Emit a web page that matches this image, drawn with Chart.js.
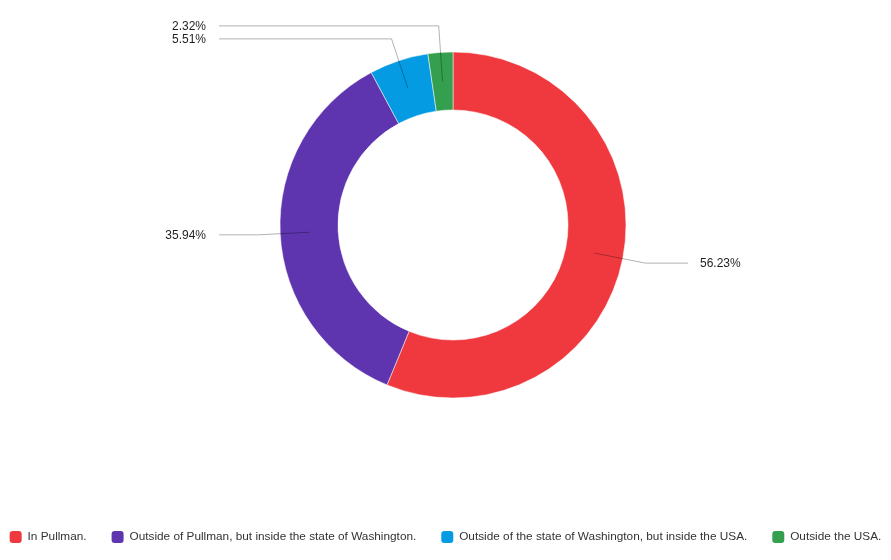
<!DOCTYPE html>
<html>
<head>
<meta charset="utf-8">
<script src="https://cdn.jsdelivr.net/npm/chart.js@4"></script>
<style>
  html, body { margin: 0; padding: 0; background: #fff; }
  #wrap { width: 891px; height: 560px; position: relative; }
</style>
</head>
<body>
<div id="wrap"><canvas id="donut"></canvas></div>
<script>
const categories = [
    'In Pullman.',
    'Outside of Pullman, but inside the state of Washington.',
    'Outside of the state of Washington, but inside the USA.',
    'Outside the USA.'
];
const shares = [56.23, 35.94, 5.51, 2.32];
const sliceColors = ['#f0393f', '#5e35ae', '#049be3', '#34a04f'];

const FONT = '"Liberation Sans", Arial, sans-serif';

// keep the legend on one row and put the ring where the original has it
const placement = {
    id: 'placement',
    beforeLayout(chart) {
        const lg = chart.legend;
        if (lg && !lg._oneRow) {
            lg._oneRow = true;
            const fit = lg.fit;
            lg.fit = function () {
                const w = this.maxWidth;
                this.maxWidth = 2000;
                fit.call(this);
                this.maxWidth = w;
                this.width = w;
            };
            const draw = lg.draw;
            lg.draw = function () {
                const r = this.right, lw = this.lineWidths[0];
                this.right = r + 1000;
                this.lineWidths[0] = lw + 1000;
                draw.call(this);
                this.right = r;
                this.lineWidths[0] = lw;
            };
        }
    },
    afterLayout(chart) {
        const a = chart.chartArea;
        a.left = 15;
        a.top = 0;
        a.bottom = 450;
        a.width = a.right - a.left;
        a.height = a.bottom - a.top;
    }
};

// leader lines + percentage labels
const leaderLabels = {
    id: 'leaderLabels',
    afterDatasetsDraw(chart) {
        const ctx = chart.ctx;
        const arcs = chart.getDatasetMeta(0).data;
        const items = arcs.map((arc, i) => {
            const mid = (arc.startAngle + arc.endAngle) / 2;
            const rMid = (arc.innerRadius + arc.outerRadius) / 2;
            const rOut = arc.outerRadius + 23;
            return {
                i,
                sx: arc.x + Math.cos(mid) * rMid,
                sy: arc.y + Math.sin(mid) * rMid,
                ex: arc.x + Math.cos(mid) * rOut,
                ey: arc.y + Math.sin(mid) * rOut,
                right: Math.cos(mid) >= 0,
                cx: arc.x
            };
        });
        // keep labels on one side from overlapping
        [true, false].forEach(side => {
            const group = items.filter(it => it.right === side).sort((a, b) => b.ey - a.ey);
            for (let k = 1; k < group.length; k++) {
                if (group[k].ey > group[k - 1].ey - 13) group[k].ey = group[k - 1].ey - 13;
            }
        });
        ctx.save();
        ctx.lineWidth = 1;
        ctx.strokeStyle = 'rgba(0,0,0,0.3)';
        ctx.font = '12px ' + FONT;
        ctx.fillStyle = '#1f1f1f';
        ctx.textBaseline = 'middle';
        items.forEach(it => {
            const endX = it.right ? it.cx + 235 : it.cx - 234;
            ctx.beginPath();
            ctx.moveTo(it.sx, it.sy);
            ctx.lineTo(it.ex, it.ey);
            ctx.lineTo(endX, it.ey);
            ctx.stroke();
            ctx.textAlign = it.right ? 'left' : 'right';
            const txt = shares[it.i].toFixed(2) + '%';
            ctx.fillText(txt, it.right ? endX + 12 : endX - 13, it.ey + 1);
        });
        ctx.restore();
    }
};

const baseLabels = Chart.overrides.doughnut.plugins.legend.labels.generateLabels;

new Chart(document.getElementById('donut'), {
    type: 'doughnut',
    data: {
        labels: categories,
        datasets: [{
            data: shares,
            backgroundColor: sliceColors,
            borderColor: '#ffffff',
            borderWidth: 0.5
        }]
    },
    options: {
        responsive: true,
        maintainAspectRatio: false,
        animation: false,
        radius: 173,
        cutout: '66.5%',
        layout: { padding: { bottom: 7 } },
        plugins: {
            tooltip: { enabled: false },
            legend: {
                position: 'bottom',
                labels: {
                    boxWidth: 12,
                    boxHeight: 12,
                    padding: 25,
                    color: '#333333',
                    font: { size: 11.8, family: FONT },
                    generateLabels: (chart) => baseLabels(chart).map(item => ({
                        ...item,
                        borderRadius: 3,
                        lineWidth: 0
                    }))
                }
            }
        }
    },
    plugins: [placement, leaderLabels]
});
</script>
</body>
</html>
